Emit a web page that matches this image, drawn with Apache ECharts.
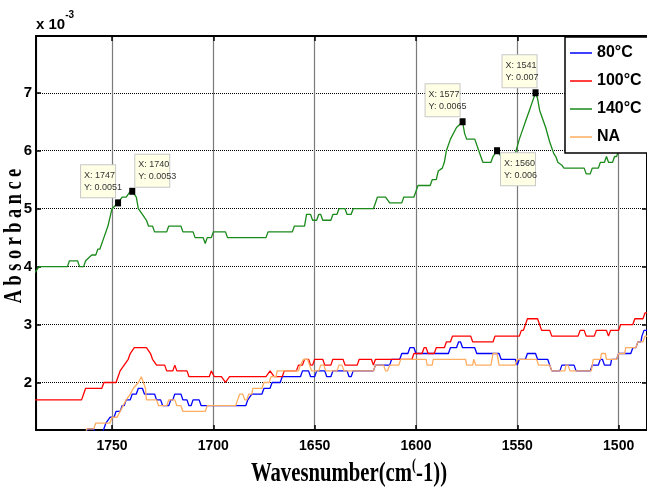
<!DOCTYPE html>
<html>
<head>
<meta charset="utf-8">
<script src="https://cdn.jsdelivr.net/npm/echarts@6/dist/echarts.min.js"></script>
<style>
html,body{margin:0;padding:0;background:#fff;}
#chart{width:647px;height:493px;}
</style>
</head>
<body>
<div id="chart"></div>
<script>
// Absorbance values are in units of 1e-3 ; [wavenumber (cm^-1), absorbance x 1e3]
const seriesNames = ['80°C', '100°C', '140°C', 'NA'];

const pts80 = [[1775,1.0],[1763,1.1],[1762,1.2],[1759,1.2],[1758,1.1],[1755,1.1],[1753,1.3],[1751,1.4],[1749,1.4],[1748,1.5],
[1746,1.5],[1745,1.6],[1744,1.6],[1743,1.7],[1741,1.7],[1740,1.8],[1738,1.8],[1737,1.9],[1735,1.9],[1734,1.8],
[1729,1.8],[1728,1.7],[1726,1.7],[1725,1.6],[1722,1.6],[1721,1.7],[1720,1.7],[1719,1.8],[1716,1.8],[1715,1.7],
[1713,1.7],[1712,1.6],[1711,1.6],[1710,1.7],[1707,1.7],[1706,1.6],[1684,1.6],[1683,1.7],[1681,1.8],[1676,1.8],
[1675,1.9],[1672,1.9],[1671,2.0],[1667,2.0],[1666,2.1],[1657,2.1],[1656,2.2],[1653,2.2],[1652,2.1],[1650,2.1],
[1649,2.2],[1645,2.2],[1644,2.1],[1642,2.1],[1641,2.2],[1634,2.2],[1633,2.1],[1632,2.1],[1631,2.2],[1621,2.2],
[1620,2.3],[1613,2.3],[1612,2.4],[1608,2.4],[1607,2.5],[1604,2.5],[1603,2.6],[1601,2.6],[1600,2.5],[1584,2.5],
[1583,2.6],[1580,2.6],[1579,2.7],[1578,2.7],[1577,2.6],[1571,2.6],[1570,2.5],[1559,2.5],[1558,2.4],[1551,2.4],
[1550,2.3],[1549,2.4],[1546,2.4],[1545,2.5],[1541,2.5],[1540,2.4],[1535,2.4],[1534,2.3],[1533,2.2],[1529,2.2],
[1528,2.3],[1522,2.3],[1521,2.2],[1514,2.2],[1513,2.3],[1510,2.3],[1509,2.4],[1508,2.4],[1507,2.3],[1504,2.3],
[1503.5,2.4],[1501,2.4],[1500,2.5],[1494,2.5],[1493,2.6],[1491.5,2.6],[1490.5,2.7],[1489,2.7],[1488.5,2.8],[1487.5,2.9],[1486,2.9]];

const pts100 = [[1788,1.7],[1765,1.7],[1764,1.8],[1763,1.9],[1755,1.9],[1754,2.0],[1748,2.0],[1747,2.1],[1746,2.2],[1744,2.3],
[1742,2.4],[1741,2.5],[1739,2.6],[1733,2.6],[1731,2.5],[1730,2.4],[1728,2.3],[1724,2.3],[1723,2.2],[1720,2.2],
[1719,2.3],[1718,2.2],[1713,2.2],[1712,2.1],[1702,2.1],[1701,2.2],[1699.5,2.1],[1696,2.1],[1694,2.0],[1692,2.1],
[1674,2.1],[1672,2.2],[1670,2.1],[1666,2.1],[1665,2.2],[1659,2.2],[1658,2.3],[1656,2.3],[1655,2.4],[1653,2.4],
[1652,2.3],[1651,2.3],[1650,2.4],[1646,2.4],[1645,2.3],[1642,2.3],[1641,2.4],[1636,2.4],[1635,2.3],[1629,2.3],
[1628,2.4],[1622,2.4],[1621,2.3],[1620,2.4],[1602,2.4],[1601,2.5],[1597,2.5],[1596,2.6],[1595,2.6],[1594,2.5],
[1591,2.5],[1590,2.6],[1586,2.6],[1585,2.7],[1583,2.7],[1582,2.8],[1573,2.8],[1572,2.7],[1562,2.7],[1561,2.8],
[1549,2.8],[1548,2.9],[1547,2.9],[1545,3.1],[1540,3.1],[1539,3.0],[1538,2.9],[1534,2.9],[1533,2.8],[1520,2.8],
[1519,2.9],[1517,2.9],[1516,2.8],[1512,2.8],[1511,2.9],[1506,2.9],[1505,2.8],[1504,2.9],[1500,2.9],[1499,3.0],
[1493,3.0],[1492,3.1],[1488,3.1],[1487,3.2],[1486,3.2]];

const pts140 = [[1788,3.9],[1786,4.0],[1772,4.0],[1771,4.1],[1767,4.1],[1766,4.0],[1764,4.0],[1763,4.1],[1760,4.2],[1758,4.2],
[1757,4.3],[1756,4.3],[1754,4.5],[1752,4.7],[1750,5.0],[1747,5.1],[1745,5.2],[1743,5.2],[1741,5.3],[1740,5.3],
[1738,5.2],[1737,5.0],[1735,4.9],[1733,4.8],[1732,4.7],[1730,4.7],[1729,4.6],[1723,4.6],[1722,4.7],[1716,4.7],
[1715,4.6],[1710,4.6],[1709,4.5],[1705,4.5],[1704,4.4],[1703,4.5],[1701,4.5],[1700,4.6],[1694,4.6],[1693,4.5],
[1674,4.5],[1673,4.6],[1661,4.6],[1660,4.7],[1655,4.7],[1654,4.9],[1652,4.9],[1651,4.8],[1649,4.8],[1648,4.9],
[1647,4.9],[1646,4.8],[1642,4.8],[1641,4.9],[1639,4.9],[1638,5.0],[1635,5.0],[1634,4.9],[1632,4.9],[1631,5.0],
[1621,5.0],[1619,5.2],[1615,5.2],[1613,5.1],[1607,5.1],[1606,5.2],[1601,5.2],[1600,5.3],[1599,5.4],[1593,5.4],
[1592,5.5],[1590,5.5],[1589,5.65],[1587,5.7],[1586,5.8],[1585,6.0],[1583,6.2],[1580,6.4],[1577,6.5],[1576,6.3],
[1575,6.2],[1571,6.2],[1569,6.0],[1567,5.8],[1563,5.8],[1562,5.9],[1560,6.0],[1558,5.9],[1555,5.8],[1552,5.9],
[1551,5.95],[1549,6.2],[1548,6.3],[1546,6.5],[1544,6.7],[1543,6.8],[1541,7.0],[1540,6.9],[1539,6.7],[1536,6.4],
[1534,6.15],[1532,5.95],[1531,5.9],[1530,5.8],[1528,5.75],[1527,5.7],[1517,5.7],[1516,5.6],[1514,5.6],[1513,5.7],
[1510,5.7],[1509,5.8],[1507,5.8],[1506,5.9],[1505,5.8],[1503,5.8],[1502,5.9],[1501,5.9],[1500,6.0],[1495,6.1],[1486,6.2]];

const ptsNA = [[1775,1.0],[1763,1.1],[1762.5,1.2],[1759,1.2],[1758,1.3],[1751,1.3],[1750,1.4],[1747.5,1.4],[1746,1.5],[1744.5,1.6],
[1743,1.7],[1741,1.8],[1739.5,1.9],[1737,2.0],[1735.5,2.1],[1735,2.1],[1733.5,1.9],[1733,1.7],[1728,1.7],[1727,1.6],
[1723,1.6],[1722,1.7],[1719,1.7],[1718,1.6],[1716,1.6],[1715,1.5],[1704,1.5],[1703,1.6],[1689,1.6],[1688,1.7],
[1687,1.8],[1685.5,1.8],[1684.5,1.7],[1683.5,1.7],[1682.5,1.8],[1681,1.8],[1680.5,1.9],[1676,1.9],[1675,2.0],[1672.5,2.0],
[1671.5,2.1],[1669,2.1],[1668.5,2.2],[1658,2.2],[1657,2.3],[1655.5,2.4],[1653.5,2.4],[1652.5,2.3],[1651.5,2.2],[1648,2.2],
[1647,2.3],[1645.5,2.3],[1644.5,2.2],[1639,2.2],[1638,2.3],[1636.5,2.3],[1635.5,2.2],[1621,2.2],[1620,2.3],[1616,2.3],
[1615,2.2],[1614,2.2],[1613,2.3],[1608.5,2.3],[1607.5,2.4],[1595,2.4],[1594.5,2.3],[1592,2.3],[1591.5,2.4],[1575.5,2.4],
[1575,2.3],[1572,2.3],[1571.5,2.4],[1571,2.4],[1570.5,2.3],[1563,2.3],[1562,2.5],[1560,2.5],[1559,2.3],[1551,2.3],
[1550,2.4],[1540.5,2.4],[1539.5,2.3],[1534,2.3],[1533,2.2],[1526.5,2.2],[1526,2.3],[1525,2.3],[1524,2.2],[1513.5,2.2],
[1512.5,2.4],[1509,2.4],[1508.5,2.5],[1506.5,2.5],[1506,2.4],[1501,2.4],[1500,2.5],[1497,2.5],[1496.5,2.6],[1491.5,2.6],
[1490.5,2.7],[1488,2.7],[1487,2.8],[1486,2.8]];

// data tips on the 140°C curve
const tipWn  = [1747, 1740, 1577, 1560, 1541];
const tipAbs = [5.1, 5.3, 6.5, 6.0, 7.0];

// axis ranges
const xMin = 1486, xMax = 1787.5;
const yMin = 1.18, yMax = 7.98;

// label box placement relative to the marker (style)
const tipPlace = [[-34,-34],[6,-33],[-34,-34],[7,6],[-30,-34]];

const NARROW = "'Liberation Sans Narrow','Arial Narrow','Liberation Sans',Arial,sans-serif";
const SERIF = "'Liberation Serif','Times New Roman',serif";
const colors = ['#0000ff', '#ff0000', '#1a8a1a', '#ffad60'];
const allPts = [pts80, pts100, pts140, ptsNA];

const chart = echarts.init(document.getElementById('chart'), null, {renderer: 'canvas'});

function fmtY(v) { return parseFloat((v / 1000).toFixed(4)).toString(); }

const series = allPts.map((pts, i) => {
  const s = {
    name: seriesNames[i],
    type: 'line',
    data: pts,
    symbol: 'none',
    showSymbol: false,
    animation: false,
    lineStyle: { color: colors[i], width: 1.3 },
    itemStyle: { color: colors[i] },
    z: i === 2 ? 3 : 2
  };
  if (i === 2) {
    s.markPoint = {
      symbol: 'rect',
      symbolSize: [6, 7],
      itemStyle: { color: '#000' },
      animation: false,
      z: 5,
      data: tipWn.map((w, k) => ({
        coord: [w, tipAbs[k]],
        label: {
          show: true,
          position: tipPlace[k],
          formatter: 'X: ' + w + '\nY: ' + fmtY(tipAbs[k]),
          align: 'left',
          verticalAlign: 'top',
          fontFamily: NARROW,
          fontSize: 9,
          lineHeight: 12,
          color: '#333',
          width: 28,
          backgroundColor: '#ffffe6',
          borderColor: '#c8c8c8',
          borderWidth: 1,
          padding: [4, 3, 4, 3]
        }
      }))
    };
  }
  return s;
});

const option = {
  backgroundColor: '#fff',
  animation: false,
  grid: { left: 36, top: 36, width: 613, height: 394, containLabel: false },
  legend: {
    data: seriesNames,
    orient: 'vertical',
    left: 565, top: 37,
    icon: 'rect',
    itemWidth: 22, itemHeight: 1.5, itemGap: 8,
    padding: [6, 70, 6, 5],
    backgroundColor: '#fff',
    borderColor: '#000', borderWidth: 1.5,
    textStyle: { fontFamily: NARROW, fontWeight: 'bold', fontSize: 16, lineHeight: 20, color: '#000' },
    z: 10
  },
  xAxis: [{
    type: 'value', min: xMin, max: xMax, inverse: true, position: 'bottom',
    axisLine: { show: true, onZero: false, lineStyle: { color: '#000', width: 2 } },
    axisTick: { show: true, inside: true, length: 5, lineStyle: { color: '#000', width: 1.5 } },
    axisLabel: { show: true, showMinLabel: false, showMaxLabel: false, margin: 9, fontFamily: NARROW, fontWeight: 'bold', fontSize: 14, color: '#000',
      formatter: v => String(v) },
    splitLine: { show: true, lineStyle: { color: '#7a7a7a', width: 1.2, type: 'solid' } }
  }, {
    type: 'value', min: xMin, max: xMax, inverse: true, position: 'top',
    axisLine: { show: true, onZero: false, lineStyle: { color: '#000', width: 2 } },
    axisTick: { show: true, inside: true, length: 5, lineStyle: { color: '#000', width: 1.5 } },
    axisLabel: { show: false },
    splitLine: { show: false }
  }],
  yAxis: [{
    type: 'value', min: yMin, max: yMax, position: 'left',
    axisLine: { show: true, onZero: false, lineStyle: { color: '#000', width: 2 } },
    axisTick: { show: true, inside: true, length: 5, lineStyle: { color: '#000', width: 1.5 } },
    axisLabel: { show: true, showMinLabel: false, showMaxLabel: false, margin: 4, fontFamily: NARROW, fontWeight: 'bold', fontSize: 15, color: '#000',
      formatter: v => String(v) },
    splitLine: { show: true, lineStyle: { color: '#000', width: 1, type: [1, 1] } }
  }, {
    type: 'value', min: yMin, max: yMax, position: 'right',
    axisLine: { show: true, onZero: false, lineStyle: { color: '#000', width: 2 } },
    axisTick: { show: true, inside: true, length: 5, lineStyle: { color: '#000', width: 1.5 } },
    axisLabel: { show: false },
    splitLine: { show: false }
  }],
  series: series,
  graphic: [
    {
      type: 'text', x: 36, y: 32, z: 20,
      style: {
        text: '{b|x 10}{s|-3}',
        align: 'left', verticalAlign: 'bottom',
        rich: {
          b: { fontFamily: NARROW, fontWeight: 'bold', fontSize: 15, lineHeight: 22, verticalAlign: 'bottom', fill: '#000', color: '#000' },
          s: { fontFamily: NARROW, fontWeight: 'bold', fontSize: 10, lineHeight: 22, verticalAlign: 'top', fill: '#000', color: '#000' }
        }
      }
    },
    {
      type: 'text', x: 15, y: 236, rotation: Math.PI / 2, scaleX: 0.73, z: 20,
      style: {
        text: 'A b s o r b a n c e',
        font: 'bold 25px ' + SERIF,
        fill: '#000',
        align: 'center', verticalAlign: 'middle'
      }
    },
    {
      type: 'text', x: 349, y: 473, scaleX: 0.74, z: 20,
      style: {
        text: '{a|Wavesnumber(cm}{s|(}{a|-1))}',
        align: 'center', verticalAlign: 'middle',
        rich: {
          a: { fontFamily: SERIF, fontWeight: 'bold', fontSize: 28, lineHeight: 30, verticalAlign: 'bottom', fill: '#000', color: '#000' },
          s: { fontFamily: SERIF, fontWeight: 'bold', fontSize: 16, lineHeight: 30, verticalAlign: 'top', fill: '#000', color: '#000' }
        }
      }
    }
  ]
};

chart.setOption(option);
</script>
</body>
</html>
